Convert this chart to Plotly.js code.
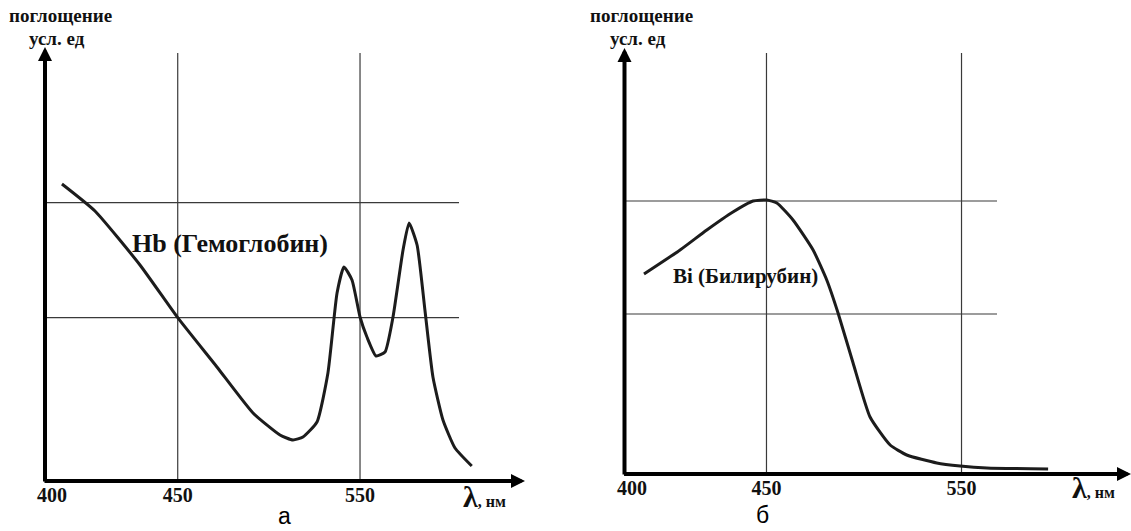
<!DOCTYPE html>
<html><head><meta charset="utf-8">
<script src="https://cdn.plot.ly/plotly-3.0.1.min.js"></script>
<style>html,body{margin:0;padding:0;background:#fff}</style>
</head><body><div id="chart" style="width:1131px;height:531px"></div>
<script>
// Hemoglobin (panel а)
const hbWavelength = [386.5, 404.6, 429.3, 450.0, 471.4, 491.3, 506.1, 513.2, 518.7, 526.4, 532.4, 537.4, 541.2, 545.6, 550.0, 553.8, 558.8, 563.7, 568.1, 573.6, 576.9, 581.3, 585.6, 590.0, 595.5, 602.1, 611.3];
const hbAbsorbance = [2.97, 2.70, 2.16, 1.633, 1.143, 0.68, 0.46, 0.41, 0.44, 0.59, 1.08, 1.88, 2.14, 2.01, 1.64, 1.44, 1.25, 1.29, 1.64, 2.31, 2.58, 2.36, 1.71, 1.04, 0.61, 0.33, 0.15];
// Bilirubin (panel б)
const biWavelength = [387.2, 405.7, 419.4, 432.8, 443.1, 450.1, 455.3, 463.6, 473.9, 480.9, 486.7, 494.4, 503.1, 513.4, 521.9, 537.3, 549.3, 563.0, 594.4];
const biAbsorbance = [2.00, 2.24, 2.44, 2.62, 2.73, 2.74, 2.71, 2.54, 2.24, 1.94, 1.61, 1.11, 0.57, 0.29, 0.19, 0.11, 0.08, 0.06, 0.05];

const tickValues = [381, 450, 550];
const tickLabels = ['400', '450', '550'];
const gridWavelengths = [450, 550];
const hbGridLevels = [1.633, 2.783];
const biGridLevels = [1.60, 2.73];
const hbName = 'Hb (Гемоглобин)';
const biName = 'Bi (Билирубин)';
const yTitle1 = 'поглощение';
const yTitle2 = 'усл. ед';
const panelLabels = ['а', 'б'];

const W = 1131, H = 531;
const px = v => v / W;
const py = v => 1 - v / H;

const X0 = 377.2;
const ax1 = {range: [X0, 640.5], yTop: 4.34, gridTop: 4.28, gridEnd: 604.3};
const ax2 = {range: [X0, 636.9], yTop: 4.26, gridTop: 4.21, gridEnd: 568.2};

const lineStyle = {color: '#1c1c1c', width: 3, shape: 'spline', smoothing: 0.5};
const traces = [
  {x: hbWavelength, y: hbAbsorbance, xaxis: 'x', yaxis: 'y', mode: 'lines', line: lineStyle, hoverinfo: 'skip'},
  {x: biWavelength, y: biAbsorbance, xaxis: 'x2', yaxis: 'y2', mode: 'lines', line: lineStyle, hoverinfo: 'skip'}
];

const gridLine = {color: '#3a3a3a', width: 1.2};
const shapes = [];
function addGrid(xr, yr, a, levels) {
  gridWavelengths.forEach(g => shapes.push({type: 'line', xref: xr, yref: yr, x0: g, x1: g, y0: 0, y1: a.gridTop, line: gridLine, layer: 'below'}));
  levels.forEach(l => shapes.push({type: 'line', xref: xr, yref: yr, x0: X0, x1: a.gridEnd, y0: l, y1: l, line: gridLine, layer: 'below'}));
}
addGrid('x', 'y', ax1, hbGridLevels);
addGrid('x2', 'y2', ax2, biGridLevels);

const SERIF = '"Liberation Serif"';
const serifBold = s => ({family: SERIF, size: s, color: '#111', weight: 'bold'});
const arrowCommon = {text: '', showarrow: true, arrowhead: 2, arrowsize: 0.7, arrowwidth: 4, arrowcolor: '#000'};
const annotations = [
  // axes with arrows
  Object.assign({xref: 'x', yref: 'y', axref: 'x', ayref: 'y', x: ax1.range[1], y: 0, ax: X0 - 1.1, ay: 0}, arrowCommon),
  Object.assign({xref: 'x', yref: 'y', axref: 'x', ayref: 'y', x: X0, y: ax1.yTop, ax: X0, ay: -0.02}, arrowCommon),
  Object.assign({xref: 'x2', yref: 'y2', axref: 'x2', ayref: 'y2', x: ax2.range[1], y: 0, ax: X0 - 1.0, ay: 0}, arrowCommon),
  Object.assign({xref: 'x2', yref: 'y2', axref: 'x2', ayref: 'y2', x: X0, y: ax2.yTop, ax: X0, ay: -0.02}, arrowCommon),
  // y titles
  {xref: 'paper', yref: 'paper', x: px(60.5), y: py(15.5), text: yTitle1, showarrow: false, font: serifBold(19), xanchor: 'center', yanchor: 'middle'},
  {xref: 'paper', yref: 'paper', x: px(56.5), y: py(38.5), text: yTitle2, showarrow: false, font: serifBold(19), xanchor: 'center', yanchor: 'middle'},
  {xref: 'paper', yref: 'paper', x: px(642), y: py(15.5), text: yTitle1, showarrow: false, font: serifBold(19), xanchor: 'center', yanchor: 'middle'},
  {xref: 'paper', yref: 'paper', x: px(638), y: py(38.5), text: yTitle2, showarrow: false, font: serifBold(19), xanchor: 'center', yanchor: 'middle'},
  // curve names
  {xref: 'paper', yref: 'paper', x: px(230), y: py(243.5), text: hbName, showarrow: false, font: serifBold(26), xanchor: 'center', yanchor: 'middle'},
  {xref: 'paper', yref: 'paper', x: px(746), y: py(276), text: biName, showarrow: false, font: serifBold(21), xanchor: 'center', yanchor: 'middle'},
  // x units
  {xref: 'paper', yref: 'paper', x: px(484.5), y: py(496), text: '<span style="font-size:30px">λ</span>, нм', showarrow: false, font: serifBold(16), xanchor: 'center', yanchor: 'middle'},
  {xref: 'paper', yref: 'paper', x: px(1093), y: py(487), text: '<span style="font-size:30px">λ</span>, нм', showarrow: false, font: serifBold(16), xanchor: 'center', yanchor: 'middle'},
  // panel labels
  {xref: 'paper', yref: 'paper', x: px(284), y: py(516), text: panelLabels[0], showarrow: false, font: {family: '"Liberation Sans"', size: 23, color: '#000'}, xanchor: 'center', yanchor: 'middle'},
  {xref: 'paper', yref: 'paper', x: px(762), y: py(515), text: panelLabels[1], showarrow: false, font: {family: '"Liberation Sans"', size: 23, color: '#000'}, xanchor: 'center', yanchor: 'middle'}
];

const xBase = {showgrid: false, zeroline: false, showline: false, ticks: '', tickvals: tickValues, ticktext: tickLabels, tickfont: serifBold(20), fixedrange: true};
const yBase = {showgrid: false, zeroline: false, showline: false, showticklabels: false, ticks: '', fixedrange: true};

const layout = {
  width: W, height: H,
  margin: {l: 0, r: 0, t: 0, b: 0},
  paper_bgcolor: '#fff', plot_bgcolor: 'rgba(0,0,0,0)',
  showlegend: false,
  font: {family: SERIF},
  xaxis: Object.assign({}, xBase, {domain: [px(45), px(525)], range: ax1.range, anchor: 'y'}),
  yaxis: Object.assign({}, yBase, {domain: [py(481), py(47)], range: [0, ax1.yTop], anchor: 'x'}),
  xaxis2: Object.assign({}, xBase, {domain: [px(624.5), 1], range: ax2.range, anchor: 'y2'}),
  yaxis2: Object.assign({}, yBase, {domain: [py(474), py(48)], range: [0, ax2.yTop], anchor: 'x2'}),
  shapes: shapes,
  annotations: annotations
};

Plotly.newPlot('chart', traces, layout, {displayModeBar: false, staticPlot: true});
</script>
</body></html>
